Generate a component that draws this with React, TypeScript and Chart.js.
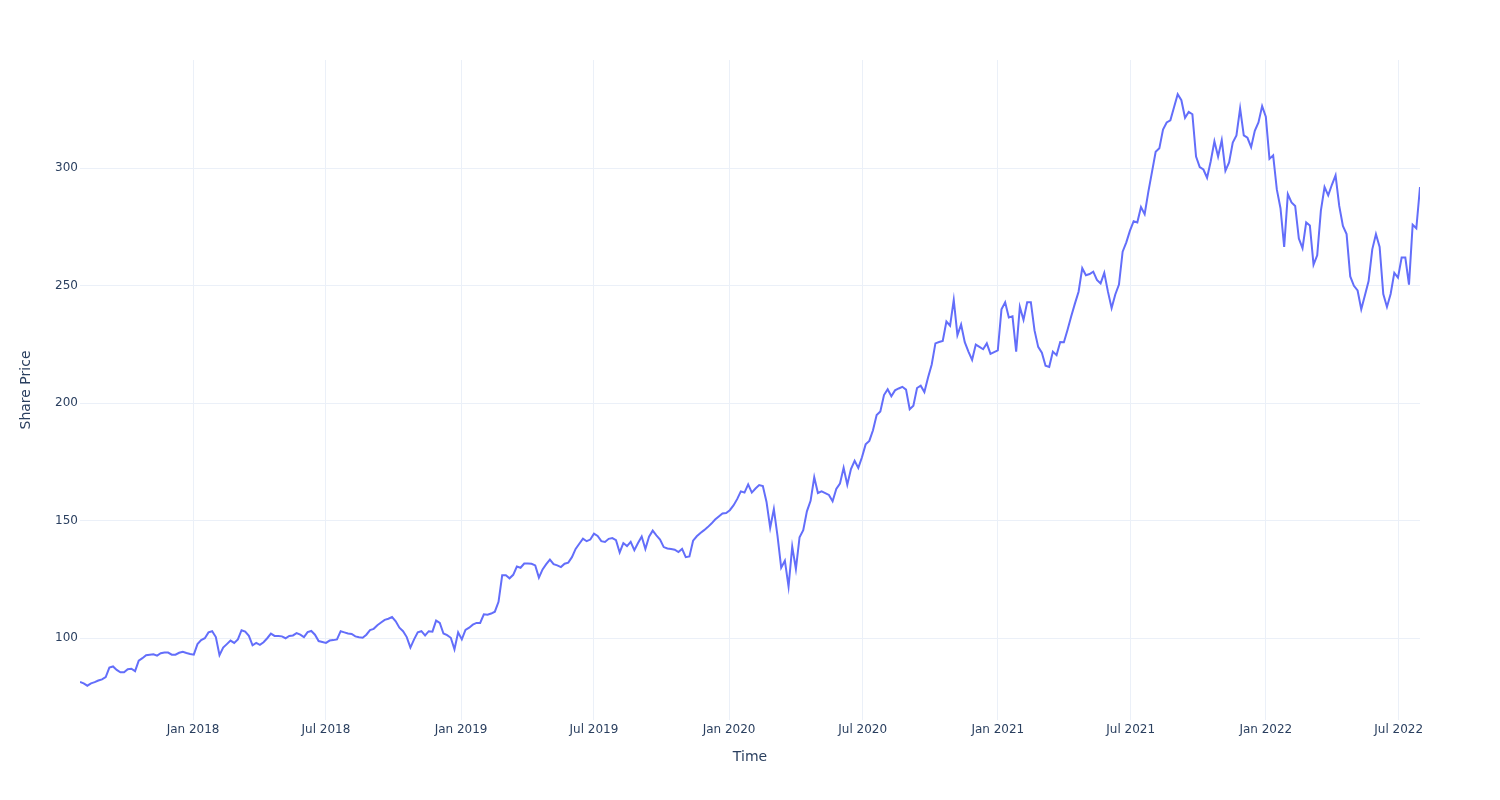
import React, { useEffect, useRef } from "react";
import { Chart, registerables } from "chart.js";

Chart.register(...registerables);

// Share price sampled every 5 calendar days starting at START_DATE
const START_DATE = "2017-07-31";
const END_DATE = "2022-07-30";
const STEP_DAYS = 5;

const price2017 = [
  81.4, 80.8, 79.8, 80.8, 81.3, 82.0, 82.5, 83.5, 87.5, 88.0,
  86.5, 85.5, 85.5, 86.8, 87.0, 86.0, 90.5, 91.5, 92.8, 93.0,
  93.2, 92.6, 93.6, 93.9, 93.9, 93.0, 93.0, 93.8, 94.2, 93.7, 93.3,
];
const price2018 = [
  93.0, 97.5, 99.2, 100.0, 102.5, 103.0, 100.5, 92.8, 96.0,
  97.5, 99.0, 98.0, 99.5, 103.4, 102.8, 101.0, 97.0, 98.0, 97.2,
  98.3, 100.0, 102.0, 101.0, 101.0, 100.8, 100.0, 101.0, 101.2, 102.2,
  101.5, 100.5, 102.6, 103.1, 101.5, 98.8, 98.4, 98.0, 99.0, 99.2,
  99.5, 103.0, 102.5, 102.0, 101.8, 100.8, 100.4, 100.2, 101.5, 103.5,
  104.0, 105.5, 106.7, 107.8, 108.3, 109.0, 107.2, 104.5, 103.0, 100.5,
  96.0, 99.5, 102.5, 103.0, 101.2, 103.0, 102.8, 107.5, 106.5, 102.0,
  101.3, 100.2, 95.3, 102.5,
];
const price2019 = [
  99.5, 103.5, 104.5, 105.8, 106.5, 106.5,
  110.2, 110.0, 110.5, 111.3, 115.5, 126.8, 126.8, 125.5, 127.0, 130.5,
  130.0, 131.8, 131.8, 131.7, 131.0, 125.8, 129.3, 131.5, 133.5, 131.5,
  131.0, 130.3, 131.7, 132.2, 134.5, 138.0, 140.2, 142.4, 141.3, 142.0,
  144.5, 143.5, 141.3, 141.0, 142.3, 142.6, 141.7, 136.5, 140.5, 139.2,
  141.0, 137.5, 140.5, 143.3, 138.0, 143.2, 145.8, 143.8, 142.0, 138.8,
  138.2, 138.0, 137.7, 136.7, 138.0, 134.5, 134.8, 141.5, 143.4, 144.8,
  146.0, 147.3, 148.8, 150.5, 151.8, 153.1, 153.3,
];
const price2020 = [
  154.5, 156.5, 159.2,
  162.5, 162.0, 165.5, 162.0, 163.7, 165.2, 164.8, 158.0, 147.0, 155.0,
  143.5, 130.0, 133.0, 122.0, 139.0, 129.5, 143.0, 146.0, 154.0, 158.5,
  168.5, 161.8, 162.5, 161.8, 161.0, 158.3, 163.5, 165.8, 172.5, 165.3,
  172.0, 175.5, 172.5, 177.0, 182.5, 184.0, 188.5, 195.0, 196.5, 203.5,
  206.0, 203.0, 205.5, 206.3, 207.0, 205.8, 197.5, 199.0, 206.5, 207.5,
  204.8, 211.0, 216.5, 225.5, 226.1, 226.5, 234.8, 233.0, 244.0, 229.0,
  233.5, 226.0, 222.0, 218.5, 225.0, 224.0, 223.0, 225.5, 221.0, 221.8,
];
const price2021 = [
  222.5, 240.0, 243.0, 236.5, 237.0, 222.0, 241.0, 235.5, 243.0, 243.0,
  231.0, 224.0, 221.5, 216.0, 215.5, 222.0, 220.5, 226.1, 226.0, 231.3,
  237.0, 242.4, 247.5, 257.5, 254.5, 255.0, 256.0, 252.5, 251.0, 255.5,
  247.5, 240.5, 246.3, 250.5, 264.5, 268.5, 273.5, 277.5, 277.0, 283.5,
  280.5, 290.0, 298.5, 307.0, 308.5, 316.5, 319.5, 320.4, 326.0, 331.5,
  329.0, 321.5, 324.0, 323.0, 305.0, 300.5, 299.5, 296.0, 303.0, 311.5,
  305.0, 312.0, 299.0, 302.5, 311.0, 314.0, 325.5, 314.0, 313.0, 309.0,
  316.0, 319.5, 326.5,
];
const price2022 = [
  322.0, 304.0, 305.5, 291.0, 283.0, 266.5, 289.0,
  285.5, 284.0, 270.1, 266.0, 277.0, 275.7, 259.0, 263.0, 282.0, 292.0,
  288.5, 293.0, 297.0, 284.0, 275.5, 272.0, 254.0, 250.0, 248.0, 240.0,
  246.0, 252.0, 265.5, 272.0, 266.5, 246.5, 241.0, 246.5, 255.5, 253.5,
  262.0, 262.0, 250.5, 276.0, 274.5, 292.0,
];

const xTickDates = [
  "2018-01-01", "2018-07-01", "2019-01-01", "2019-07-01", "2020-01-01",
  "2020-07-01", "2021-01-01", "2021-07-01", "2022-01-01", "2022-07-01",
];
const xTickLabels = [
  "Jan 2018", "Jul 2018", "Jan 2019", "Jul 2019", "Jan 2020",
  "Jul 2020", "Jan 2021", "Jul 2021", "Jan 2022", "Jul 2022",
];
const yTickValues = [100, 150, 200, 250, 300];
const Y_MIN = 65.2;
const Y_MAX = 346.1;

const X_TITLE = "Time";
const Y_TITLE = "Share Price";

const DAY_MS = 86400000;
const toMs = (s: string) => Date.parse(s + "T00:00:00Z");

const FONT = "'DejaVu Sans', Verdana, Arial, sans-serif";
const TEXT_COLOR = "#2a3f5f";
const GRID_COLOR = "#EBF0F8";
const LINE_COLOR = "#636efa";

export default function App() {
  const canvasRef = useRef<HTMLCanvasElement | null>(null);

  useEffect(() => {
    const canvas = canvasRef.current;
    if (!canvas) return;
    const prices = [
      ...price2017, ...price2018, ...price2019,
      ...price2020, ...price2021, ...price2022,
    ];
    const start = toMs(START_DATE);
    const points = prices.map((v, i) => ({ x: start + i * STEP_DAYS * DAY_MS, y: v }));

    const chart = new Chart(canvas, {
      type: "line",
      data: {
        datasets: [
          {
            data: points,
            borderColor: LINE_COLOR,
            borderWidth: 2,
            pointRadius: 0,
            tension: 0,
            fill: false,
          },
        ],
      },
      options: {
        animation: false,
        responsive: false,
        maintainAspectRatio: false,
        parsing: false as any,
        layout: { padding: { left: 0, right: 80, top: 60, bottom: 0 } },
        plugins: {
          legend: { display: false },
          tooltip: { enabled: false },
        },
        scales: {
          x: {
            type: "linear",
            min: toMs(START_DATE),
            max: toMs(END_DATE),
            afterFit: (s: any) => {
              s.height = 80;
            },
            afterBuildTicks: (s: any) => {
              s.ticks = xTickDates.map((d) => ({ value: toMs(d) }));
            },
            ticks: {
              autoSkip: false,
              maxRotation: 0,
              minRotation: 0,
              padding: 3,
              color: TEXT_COLOR,
              font: { family: FONT, size: 12 },
              callback: (_v: any, i: number) => xTickLabels[i],
            },
            grid: { color: GRID_COLOR, lineWidth: 1, drawTicks: false },
            border: { display: false },
            title: {
              display: true,
              text: X_TITLE,
              color: TEXT_COLOR,
              font: { family: FONT, size: 14 },
              padding: { top: 0, bottom: 34 },
            },
          },
          y: {
            type: "linear",
            min: Y_MIN,
            max: Y_MAX,
            afterFit: (s: any) => {
              s.width = 80;
            },
            afterBuildTicks: (s: any) => {
              s.ticks = yTickValues.map((v) => ({ value: v }));
            },
            ticks: {
              padding: 2,
              color: TEXT_COLOR,
              font: { family: FONT, size: 12 },
              callback: (v: any) => String(v),
            },
            grid: { color: GRID_COLOR, lineWidth: 1, drawTicks: false },
            border: { display: false },
            title: {
              display: true,
              text: Y_TITLE,
              color: TEXT_COLOR,
              font: { family: FONT, size: 14 },
              padding: { top: 18, bottom: 0 },
            },
          },
        },
      },
    });
    return () => chart.destroy();
  }, []);

  return (
    <div
      style={{
        position: "fixed",
        left: 0,
        top: 0,
        width: 1500,
        height: 800,
        background: "#ffffff",
      }}
    >
      <canvas ref={canvasRef} width={1500} height={800} style={{ width: 1500, height: 800 }} />
    </div>
  );
}
